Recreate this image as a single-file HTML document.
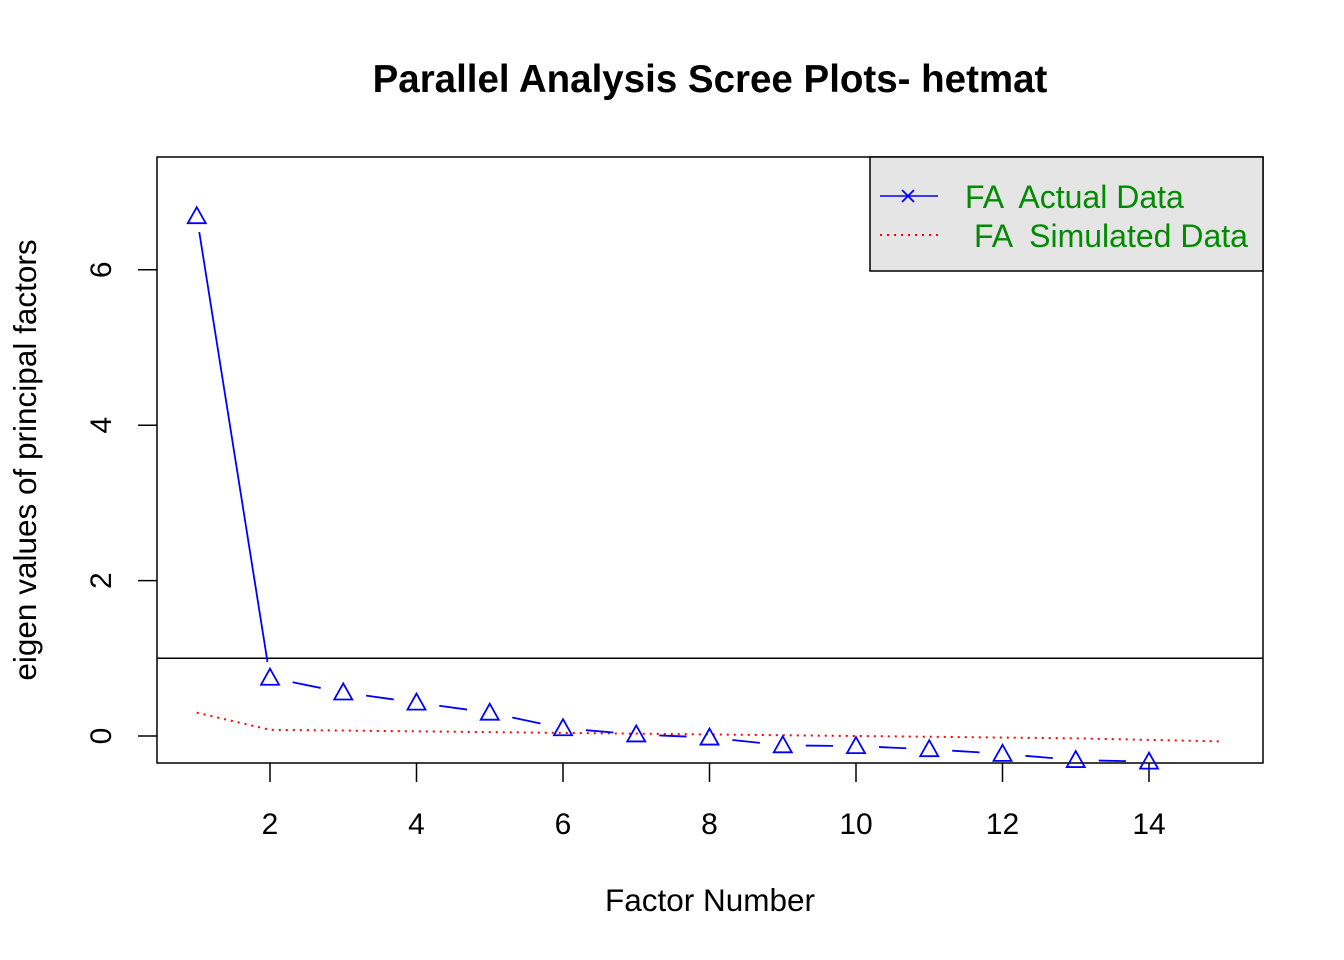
<!DOCTYPE html>
<html><head><meta charset="utf-8"><style>body{margin:0;background:#fff}svg{display:block;font-family:"Liberation Sans",Arial,sans-serif}text{white-space:pre}</style></head>
<body>
<svg id="chart" width="1344" height="960" viewBox="0 0 1344 960"></svg>
<script>
const factors=[1,2,3,4,5,6,7,8,9,10,11,12,13,14];
const actualValues=[6.69,0.75,0.56,0.43,0.30,0.10,0.02,-0.02,-0.12,-0.13,-0.17,-0.23,-0.31,-0.33];
const simFactors=[1,2,3,4,5,6,7,8,9,10,11,12,13,14,15];
const simValues=[0.30,0.08,0.07,0.06,0.05,0.04,0.03,0.02,0.01,0.0,-0.01,-0.02,-0.03,-0.05,-0.07];
const xTicks=[2,4,6,8,10,12,14];
const yTicks=[0,2,4,6];
const NS="http://www.w3.org/2000/svg";
const svg=document.getElementById('chart');
const X=v=>196.75+(v-1)*73.25;
const Y=v=>736-v*77.7;
function mk(t,a,p){const e=document.createElementNS(NS,t);for(const k in a)e.setAttribute(k,a[k]);(p||svg).appendChild(e);return e;}
let e;
e=mk('rect',{x:157,y:157,width:1106,height:606,fill:'none',stroke:'#000','stroke-width':1.5});


e=mk('text',{x:710,y:92,'text-anchor':'middle','font-size':38.5,'font-weight':'bold'});e.textContent='Parallel Analysis Scree Plots- hetmat';


e=mk('text',{x:710,y:911,'text-anchor':'middle','font-size':31.5});e.textContent='Factor Number';


e=mk('text',{x:0,y:0,'text-anchor':'middle','font-size':31.5,transform:'translate(36,460) rotate(-90)'});e.textContent='eigen values of principal factors';


xTicks.forEach(t=>{const l=mk('line',{x1:X(t),x2:X(t),y1:763,y2:782,stroke:'#000','stroke-width':1.5});


const s=mk('text',{x:X(t),y:834,'text-anchor':'middle','font-size':30});s.textContent=t;

});
yTicks.forEach(t=>{const l=mk('line',{x1:138,x2:157,y1:Y(t),y2:Y(t),stroke:'#000','stroke-width':1.5});


const s=mk('text',{x:0,y:0,'text-anchor':'middle','font-size':30,transform:`translate(111,${Y(t)}) rotate(-90)`});s.textContent=t;

});
e=mk('line',{x1:157,x2:1263,y1:Y(1),y2:Y(1),stroke:'#000','stroke-width':1.5});


e=mk('polyline',{points:simFactors.map((f,i)=>X(f)+','+Y(simValues[i])).join(' '),fill:'none',stroke:'#f00','stroke-width':2,'stroke-dasharray':'2 5'});


for(let i=0;i<factors.length-1;i++){
 const x1=X(factors[i]),y1=Y(actualValues[i]),x2=X(factors[i+1]),y2=Y(actualValues[i+1]);
 const d=Math.hypot(x2-x1,y2-y1),g=i==0?16:23;if(d<2*g)continue;
 const ux=(x2-x1)/d,uy=(y2-y1)/d;
 const s=mk('line',{x1:x1+ux*g,y1:y1+uy*g,x2:x2-ux*g,y2:y2-uy*g,stroke:'#00f','stroke-width':1.8});
 
 
}
factors.forEach((f,i)=>{const x=X(f),y=Y(actualValues[i]);
 const p=mk('polygon',{points:`${x},${y-9} ${x-9},${y+7} ${x+9},${y+7}`,fill:'none',stroke:'#00f','stroke-width':1.8});
 
 });
const lg=mk('g',{});


mk('rect',{x:870,y:157,width:393,height:114,fill:'#e5e5e5',stroke:'#000','stroke-width':1.5},lg);
mk('line',{x1:880,x2:938,y1:196,y2:196,stroke:'#00f','stroke-width':1.6},lg);
mk('path',{d:'M902,190 l12,12 M914,190 l-12,12',stroke:'#00f','stroke-width':1.8},lg);
mk('line',{x1:880,x2:938,y1:235,y2:235,stroke:'#f00','stroke-width':2,'stroke-dasharray':'2 5'},lg);
e=mk('text',{x:965,y:208,'font-size':32,fill:'#008b00'},lg);e.textContent='FA  Actual Data';


e=mk('text',{x:974,y:247,'font-size':32,fill:'#008b00'},lg);e.textContent='FA  Simulated Data';


</script>
</body></html>
